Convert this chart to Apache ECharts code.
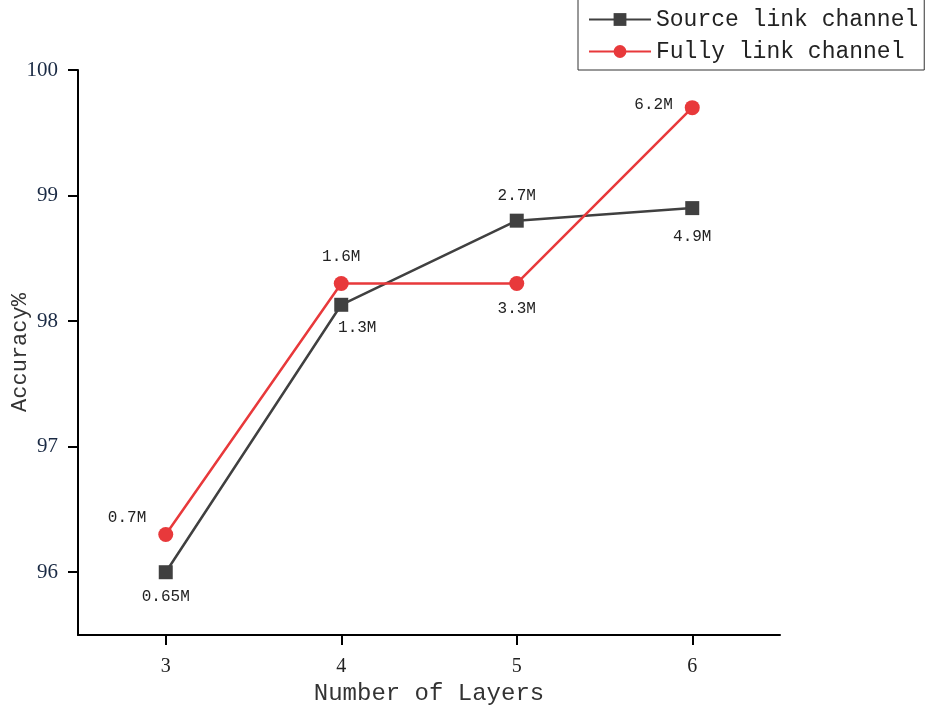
<!DOCTYPE html>
<html>
<head>
<meta charset="utf-8">
<script src="https://cdn.jsdelivr.net/npm/echarts@6/dist/echarts.min.js"></script>
<style>
  html, body { margin: 0; padding: 0; background: #fff; }
  #chart { width: 934px; height: 712px; }
</style>
</head>
<body>
<div id="chart"></div>
<script>
// data
var layers = [3, 4, 5, 6];
var sourceAcc = [96.0, 98.13, 98.8, 98.9];
var fullyAcc = [96.3, 98.3, 98.3, 99.7];
var sourceParams = ['0.65M', '1.3M', '2.7M', '4.9M'];
var fullyParams = ['0.7M', '1.6M', '3.3M', '6.2M'];
var yTicks = [96, 97, 98, 99, 100];

var monoFont = '"Liberation Mono", "DejaVu Sans Mono", monospace';
var serifFont = '"Liberation Serif", "DejaVu Serif", serif';

// where each point's label sits
var sourceLabelPos = [
  { position: 'bottom', distance: 10 },
  { position: 'bottom', distance: 8, offset: [16, 0] },
  { position: 'top', distance: 10 },
  { position: 'bottom', distance: 14 }
];
var fullyLabelPos = [
  { position: 'left', distance: 12, offset: [0, -17] },
  { position: 'top', distance: 11 },
  { position: 'bottom', distance: 10 },
  { position: 'left', distance: 12, offset: [0, -3] }
];

function buildPoints(xs, ys, names, pos) {
  return xs.map(function (x, i) {
    return {
      value: [x, ys[i]],
      name: names[i],
      label: pos[i]
    };
  });
}

var chart = echarts.init(document.getElementById('chart'));
var option = {
  backgroundColor: '#fff',
  animation: false,
  grid: { left: 78, right: 154, top: 70, bottom: 77, outerBoundsMode: 'none', containLabel: false },
  legend: {
    orient: 'vertical',
    left: 578,
    top: -1,
    padding: [9, 6, 7, 10],
    itemGap: 9,
    itemWidth: 62,
    itemHeight: 16,
    borderColor: '#333',
    borderWidth: 1,
    textStyle: { fontFamily: monoFont, fontSize: 23, color: '#222' },
    data: ['Source link channel', 'Fully link channel']
  },
  xAxis: {
    type: 'value',
    min: 2.5,
    max: 6.5,
    interval: 0.5,
    name: 'Number of Layers',
    nameLocation: 'middle',
    nameGap: 47,
    nameMoveOverlap: false,
    nameTextStyle: { fontFamily: monoFont, fontSize: 24, color: '#333' },
    splitLine: { show: false },
    axisLine: { lineStyle: { color: '#000', width: 2 } },
    axisTick: { customValues: layers, length: 10, inside: false, lineStyle: { color: '#000', width: 2 } },
    axisLabel: { customValues: layers, margin: 22, fontFamily: serifFont, fontSize: 20, color: '#222' }
  },
  yAxis: {
    type: 'value',
    min: 95.5,
    max: 100,
    interval: 0.5,
    name: 'Accuracy%',
    nameLocation: 'middle',
    nameGap: 47,
    nameMoveOverlap: false,
    nameTextStyle: { fontFamily: monoFont, fontSize: 22, color: '#333' },
    splitLine: { show: false },
    axisLine: { show: true, lineStyle: { color: '#000', width: 2 } },
    axisTick: { show: true, customValues: yTicks, length: 10, inside: false, lineStyle: { color: '#000', width: 2 } },
    axisLabel: { customValues: yTicks, margin: 20, fontFamily: serifFont, fontSize: 21, color: '#1a2a44' }
  },
  series: [
    {
      name: 'Source link channel',
      type: 'line',
      symbol: 'rect',
      symbolSize: 14,
      lineStyle: { color: '#404040', width: 2.5 },
      itemStyle: { color: '#404040' },
      label: {
        show: true,
        fontFamily: monoFont,
        fontSize: 16,
        color: '#222',
        formatter: function (p) { return p.name; }
      },
      data: buildPoints(layers, sourceAcc, sourceParams, sourceLabelPos)
    },
    {
      name: 'Fully link channel',
      type: 'line',
      symbol: 'circle',
      symbolSize: 15,
      lineStyle: { color: '#e8393b', width: 2.5 },
      itemStyle: { color: '#e8393b' },
      label: {
        show: true,
        fontFamily: monoFont,
        fontSize: 16,
        color: '#222',
        formatter: function (p) { return p.name; }
      },
      data: buildPoints(layers, fullyAcc, fullyParams, fullyLabelPos)
    }
  ]
};
chart.setOption(option);
</script>
</body>
</html>
